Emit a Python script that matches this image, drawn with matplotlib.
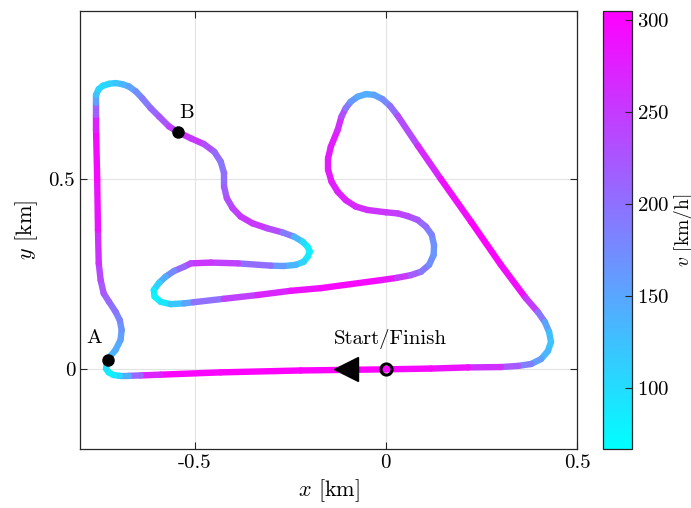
import numpy as np
import matplotlib
matplotlib.use("Agg")
import matplotlib.pyplot as plt
from matplotlib.collections import LineCollection
from matplotlib.colors import Normalize

plt.rcParams["font.family"] = ["cmr10", "DejaVu Serif"]
plt.rcParams["mathtext.fontset"] = "cm"
plt.rcParams["axes.unicode_minus"] = False
plt.rcParams["axes.formatter.use_mathtext"] = True

# track centre line [km] and speed [km/h] (driving order)
track_x = [0.000, -0.223, -0.432, -0.589, -0.641, -0.673, -0.696, -0.712, -0.725, -0.732,
           -0.729, -0.720, -0.707, -0.694, -0.691, -0.696, -0.707, -0.724, -0.738, -0.746,
           -0.751, -0.753, -0.755, -0.758, -0.758, -0.758, -0.758, -0.751, -0.740, -0.724,
           -0.707, -0.689, -0.672, -0.654, -0.637, -0.615, -0.593, -0.567, -0.543, -0.510,
           -0.476, -0.449, -0.432, -0.423, -0.423, -0.416, -0.401, -0.380, -0.349, -0.310,
           -0.270, -0.240, -0.218, -0.205, -0.199, -0.204, -0.215, -0.236, -0.267, -0.301,
           -0.387, -0.458, -0.510, -0.528, -0.554, -0.576, -0.593, -0.607, -0.605, -0.589,
           -0.563, -0.528, -0.503, -0.424, -0.335, -0.249, -0.170, -0.013, 0.029, 0.065,
           0.092, 0.113, 0.125, 0.126, 0.120, 0.105, 0.083, 0.057, 0.031, 0.000,
           -0.048, -0.079, -0.105, -0.126, -0.142, -0.151, -0.151, -0.144, -0.126, -0.116,
           -0.105, -0.092, -0.074, -0.052, -0.031, -0.009, 0.011, 0.031, 0.084, 0.144,
           0.223, 0.301, 0.366, 0.398, 0.416, 0.427, 0.432, 0.424, 0.406, 0.380,
           0.346, 0.301, 0.215, 0.118, 0.000]
track_y = [0.000, -0.003, -0.008, -0.014, -0.016, -0.017, -0.017, -0.015, -0.008, 0.002,
           0.019, 0.035, 0.051, 0.077, 0.103, 0.129, 0.151, 0.177, 0.199, 0.234,
           0.278, 0.366, 0.497, 0.628, 0.667, 0.699, 0.720, 0.735, 0.744, 0.749,
           0.751, 0.748, 0.742, 0.729, 0.711, 0.685, 0.663, 0.637, 0.622, 0.606,
           0.591, 0.571, 0.545, 0.514, 0.479, 0.449, 0.423, 0.401, 0.383, 0.370,
           0.359, 0.348, 0.335, 0.322, 0.309, 0.296, 0.282, 0.274, 0.271, 0.272,
           0.278, 0.280, 0.278, 0.269, 0.258, 0.243, 0.227, 0.208, 0.191, 0.177,
           0.171, 0.173, 0.176, 0.185, 0.195, 0.206, 0.213, 0.234, 0.240, 0.247,
           0.256, 0.274, 0.300, 0.326, 0.353, 0.374, 0.392, 0.402, 0.409, 0.412,
           0.418, 0.427, 0.444, 0.466, 0.492, 0.523, 0.554, 0.584, 0.628, 0.663,
           0.685, 0.702, 0.715, 0.722, 0.720, 0.709, 0.691, 0.665, 0.586, 0.499,
           0.387, 0.274, 0.187, 0.150, 0.124, 0.098, 0.072, 0.048, 0.027, 0.014,
           0.009, 0.006, 0.005, 0.002, 0.000]
speed = [300, 305, 305, 295, 250, 170, 115, 90, 78, 85,
         110, 130, 140, 150, 160, 175, 190, 205, 215, 230,
         245, 275, 300, 295, 250, 180, 130, 110, 100, 105,
         115, 130, 145, 165, 180, 200, 215, 235, 255, 260,
         245, 215, 195, 195, 210, 225, 240, 250, 258, 250,
         220, 160, 110, 90, 78, 80, 95, 125, 150, 175,
         230, 260, 250, 225, 190, 160, 125, 95, 75, 80,
         100, 140, 170, 230, 260, 280, 295, 300, 270, 235,
         205, 180, 165, 165, 175, 195, 215, 235, 245, 250,
         260, 265, 270, 275, 278, 280, 280, 280, 275, 250,
         210, 175, 150, 140, 145, 165, 190, 215, 255, 280,
         300, 305, 280, 220, 170, 135, 120, 125, 145, 170,
         205, 240, 280, 295, 300]
v_min, v_max = 67, 305

point_A = (-0.728, 0.024)
point_B = (-0.543, 0.623)
start_xy = (0.0, 0.0)
arrow_xy = (-0.105, 0.0)

x_ticks = [-0.5, 0, 0.5]
x_ticklabels = ["-0.5", "0", "0.5"]
y_ticks = [0, 0.5]
y_ticklabels = ["0", "0.5"]
cb_ticks = [100, 150, 200, 250, 300]

fig = plt.figure(figsize=(6.91, 5.08), dpi=100)
ax = fig.add_axes([80 / 691, 59 / 508, 497 / 691, 438 / 508])
cax = fig.add_axes([603 / 691, 59 / 508, 29 / 691, 438 / 508])

xy = np.column_stack([track_x, track_y])
segs = np.stack([xy[:-1], xy[1:]], axis=1)
v = np.array(speed, dtype=float)
v_seg = 0.5 * (v[:-1] + v[1:])
norm = Normalize(v_min, v_max)
lc = LineCollection(segs, cmap="cool", norm=norm, linewidths=4.6,
                    capstyle="round", joinstyle="round", zorder=2)
lc.set_array(v_seg)
ax.add_collection(lc)

ax.plot(*point_A, "o", color="k", ms=8, zorder=4)
ax.plot(*point_B, "o", color="k", ms=8, zorder=4)
ax.plot(*arrow_xy, "<", color="k", ms=17, zorder=4)
ax.plot(*start_xy, "o", mfc="none", mec="k", mew=2.2, ms=8, zorder=4)

ax.text(-0.764, 0.081, "A", ha="center", va="center", fontsize=15)
ax.text(-0.522, 0.673, "B", ha="center", va="center", fontsize=15)
ax.text(0.013, 0.079, "Start/Finish", ha="center", va="center", fontsize=15)

ax.set_xlim(-0.8, 0.5)
ax.set_ylim(-0.209, 0.940)
ax.set_xticks(x_ticks, x_ticklabels)
ax.set_yticks(y_ticks, y_ticklabels)
ax.tick_params(direction="in", top=True, right=True, labelsize=15,
               color="#262626", length=5, width=0.8)
ax.grid(True, color="#e3e3e3", linewidth=0.8)
ax.set_axisbelow(True)
for s in ax.spines.values():
    s.set_color("#262626")
    s.set_linewidth(0.9)
ax.set_xlabel("$x$ [km]", fontsize=16, labelpad=4)
ax.set_ylabel("$y$ [km]", fontsize=16, labelpad=6)

sm = plt.cm.ScalarMappable(norm=norm, cmap="cool")
cb = fig.colorbar(sm, cax=cax)
cb.set_ticks(cb_ticks)
cb.ax.tick_params(direction="in", labelsize=15, length=5, width=0.8, color="#262626")
cb.outline.set_edgecolor("#262626")
cb.outline.set_linewidth(0.9)
cb.set_label("$v$ [km/h]", fontsize=14, labelpad=2)

fig.savefig("out.png", dpi=100)
